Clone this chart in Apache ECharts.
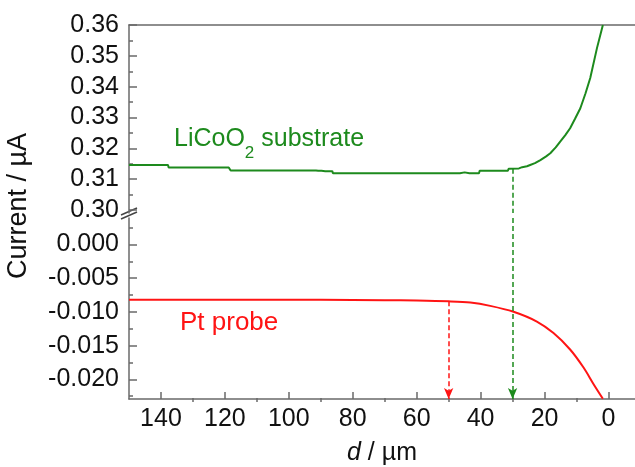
<!DOCTYPE html>
<html>
<head>
<meta charset="utf-8">
<script src="https://cdn.jsdelivr.net/npm/echarts@6/dist/echarts.min.js"></script>
<style>
  html, body { margin: 0; padding: 0; background: #fff; }
  #chart { width: 635px; height: 467px; }
</style>
</head>
<body>
<div id="chart"></div>
<script>
// distance d in um
const xMajor = [0, 20, 40, 60, 80, 100, 120, 140];
const xMinor = [10, 30, 50, 70, 90, 110, 130];
// upper panel (LiCoO2 substrate), current in uA
const topMajor = [0.30, 0.31, 0.32, 0.33, 0.34, 0.35, 0.36];
const topMinor = [0.305, 0.315, 0.325, 0.335, 0.345, 0.355];
// lower panel (Pt probe)
const bottomMajor = [-0.020, -0.015, -0.010, -0.005, 0.000];
const bottomMinor = [-0.0225, -0.0175, -0.0125, -0.0075, -0.0025, 0.0025];

const substrateD = [150, 144.6, 144.4, 144.2, 140.6, 140.4, 140.2, 137.8, 137.6,
  118.8, 118.6, 118.4, 118.2, 91.5, 91.3, 90.8, 90.4, 89.8, 89.3, 88.6, 86.4, 86.2,
  68.2, 68, 67.8, 52.2, 52, 51.8, 46.5, 46.2, 45, 44.5, 43.5, 40.5, 40.3, 31.5, 31.2,
  28, 27, 25.5, 24.5, 23, 21.3, 19.5, 18.2, 16.5, 15.1, 13.5, 12, 10.5, 8.8, 7.2, 5.7, 3.6, 1.75];
const substrateI = [0.3146, 0.3146, 0.3142, 0.3146, 0.3146, 0.3142, 0.3146, 0.3146, 0.3138,
  0.3138, 0.3134, 0.3137, 0.3128, 0.3128, 0.3124, 0.3127, 0.3123, 0.3127, 0.3123, 0.3126, 0.3126, 0.3119,
  0.3119, 0.3123, 0.3119, 0.3119, 0.3123, 0.3119, 0.3119, 0.3122, 0.3122, 0.3118, 0.3119, 0.3119, 0.3127, 0.3127, 0.3134,
  0.3135, 0.3139, 0.3142, 0.3146, 0.3152, 0.3162, 0.3174, 0.3184, 0.3203, 0.3222, 0.3243, 0.3265, 0.3295, 0.3330, 0.3378, 0.3428, 0.3525, 0.3600];

const probeD = [150, 120, 90, 70, 60, 50, 43.2, 37, 29.7, 22.4, 17.2, 12, 7.8, 4.7, 1.75];
const probeI = [-0.0082, -0.0082, -0.00821, -0.00825, -0.00831, -0.00843, -0.00861, -0.0091,
  -0.00998, -0.01143, -0.01314, -0.01557, -0.01825, -0.02068, -0.02288];

// arrows: d position and where they start
const substrateArrowD = 30, substrateArrowI = 0.3134;
const probeArrowD = 50, probeArrowI = -0.00843;

const xMin = -8.3, xMax = 150;
const topMin = 0.29903, topMax = 0.36;
const botMin = -0.02292, botMax = 0.00394;

const FONT = "'Liberation Sans', Arial, sans-serif";
const AXIS = '#6a6a6a';
const GREEN = '#1d8a1d';
const RED = '#ff1414';

const substrate = substrateD.map((d, i) => [d, substrateI[i]]);
const probe = probeD.map((d, i) => [d, probeI[i]]);

function tickAxis(opts) {
  return Object.assign({
    type: 'value',
    splitLine: { show: false },
    axisLine: { show: true, onZero: false, lineStyle: { color: AXIS, width: 1.5 } },
    axisTick: { show: true, inside: true, length: 8, lineStyle: { color: AXIS, width: 1.5 } },
    axisLabel: { show: true, color: '#111', fontSize: 25, fontFamily: FONT }
  }, opts);
}

// minor tick axes sit on the opposite side and are pulled back with a negative offset
function minorAxis(opts, values) {
  return tickAxis(Object.assign({
    axisLine: { show: false, onZero: false },
    axisTick: { show: true, inside: false, length: 4, customValues: values, lineStyle: { color: AXIS, width: 1.5 } },
    axisLabel: { show: false }
  }, opts));
}

const chart = echarts.init(document.getElementById('chart'));
chart.setOption({
  animation: false,
  backgroundColor: '#fff',
  grid: [
    { left: 129, right: 0, top: 25, bottom: 254 },
    { left: 129, right: 0, top: 218, bottom: 65 }
  ],
  xAxis: [
    tickAxis({ gridIndex: 0, position: 'top', min: xMin, max: xMax, inverse: true,
      axisTick: { show: false }, axisLabel: { show: false } }),
    tickAxis({ gridIndex: 1, position: 'bottom', min: xMin, max: xMax, inverse: true,
      axisTick: { show: true, inside: true, length: 7, customValues: xMajor, lineStyle: { color: AXIS, width: 1.5 } },
      axisLabel: { show: true, customValues: xMajor, margin: 8, color: '#111', fontSize: 25, fontFamily: FONT },
      name: '{i|d}{n| / \u00b5m}', nameLocation: 'middle', nameGap: 42,
      nameTextStyle: { rich: {
        i: { fontSize: 25, fontStyle: 'italic', fontFamily: FONT, color: '#111' },
        n: { fontSize: 25, fontFamily: FONT, color: '#111' }
      } } }),
    minorAxis({ gridIndex: 1, position: 'top', offset: -184, min: xMin, max: xMax, inverse: true }, xMinor)
  ],
  yAxis: [
    tickAxis({ gridIndex: 0, position: 'left', min: topMin, max: topMax,
      axisTick: { show: true, inside: true, length: 8, customValues: topMajor, lineStyle: { color: AXIS, width: 1.5 } },
      axisLabel: { show: true, customValues: topMajor, margin: 10, color: '#111', fontSize: 25, fontFamily: FONT,
        formatter: v => v.toFixed(2) } }),
    minorAxis({ gridIndex: 0, position: 'right', offset: -506, min: topMin, max: topMax }, topMinor),
    tickAxis({ gridIndex: 1, position: 'left', min: botMin, max: botMax,
      axisTick: { show: true, inside: true, length: 8, customValues: bottomMajor, lineStyle: { color: AXIS, width: 1.5 } },
      axisLabel: { show: true, customValues: bottomMajor, margin: 10, color: '#111', fontSize: 25, fontFamily: FONT,
        formatter: v => (Math.abs(v) < 1e-9 ? 0 : v).toFixed(3) } }),
    minorAxis({ gridIndex: 1, position: 'right', offset: -506, min: botMin, max: botMax }, bottomMinor)
  ],
  series: [
    {
      name: 'LiCoO2 substrate', type: 'line', xAxisIndex: 0, yAxisIndex: 0,
      data: substrate, showSymbol: false, symbol: 'none',
      lineStyle: { color: GREEN, width: 2 },
      markLine: {
        silent: true, symbol: ['none', 'none'], label: { show: false },
        lineStyle: { color: GREEN, type: [5, 3], width: 1.5 },
        data: [[{ coord: [substrateArrowD, substrateArrowI] }, { coord: [substrateArrowD, topMin] }]]
      }
    },
    {
      name: 'Pt probe', type: 'line', xAxisIndex: 1, yAxisIndex: 2,
      data: probe, showSymbol: false, symbol: 'none', smooth: 0.3,
      lineStyle: { color: RED, width: 2 },
      markLine: {
        silent: true, symbol: ['none', 'arrow'], symbolSize: [7, 11], label: { show: false },
        lineStyle: { type: [5, 3], width: 1.5 },
        data: [
          [{ coord: [probeArrowD, probeArrowI], lineStyle: { color: RED } }, { coord: [probeArrowD, botMin] }],
          [{ coord: [substrateArrowD, botMax], lineStyle: { color: GREEN } }, { coord: [substrateArrowD, botMin] }]
        ]
      }
    }
  ],
  graphic: [
    { type: 'line', shape: { x1: 121, y1: 215, x2: 137, y2: 208 }, style: { stroke: '#444', lineWidth: 1.5 } },
    { type: 'line', shape: { x1: 121, y1: 219, x2: 137, y2: 212 }, style: { stroke: '#444', lineWidth: 1.5 } },
    {
      type: 'text', left: 5, top: 133, rotation: Math.PI / 2,
      style: { text: 'Current / \u00b5A', fontSize: 27, fontFamily: FONT, fill: '#111' }
    },
    {
      type: 'text', x: 174, y: 127,
      style: {
        text: '{a|LiCoO}{b|2}{a| substrate}',
        fill: GREEN,
        rich: {
          a: { fontSize: 25, fontFamily: FONT, fill: GREEN, lineHeight: 28, verticalAlign: 'top' },
          b: { fontSize: 17, fontFamily: FONT, fill: GREEN, lineHeight: 17, padding: [18, 0, 0, 0], verticalAlign: 'top' }
        }
      }
    },
    {
      type: 'text', x: 180, y: 310,
      style: { text: 'Pt probe', fontSize: 26, fontFamily: FONT, fill: RED }
    }
  ]
});
</script>
</body>
</html>
